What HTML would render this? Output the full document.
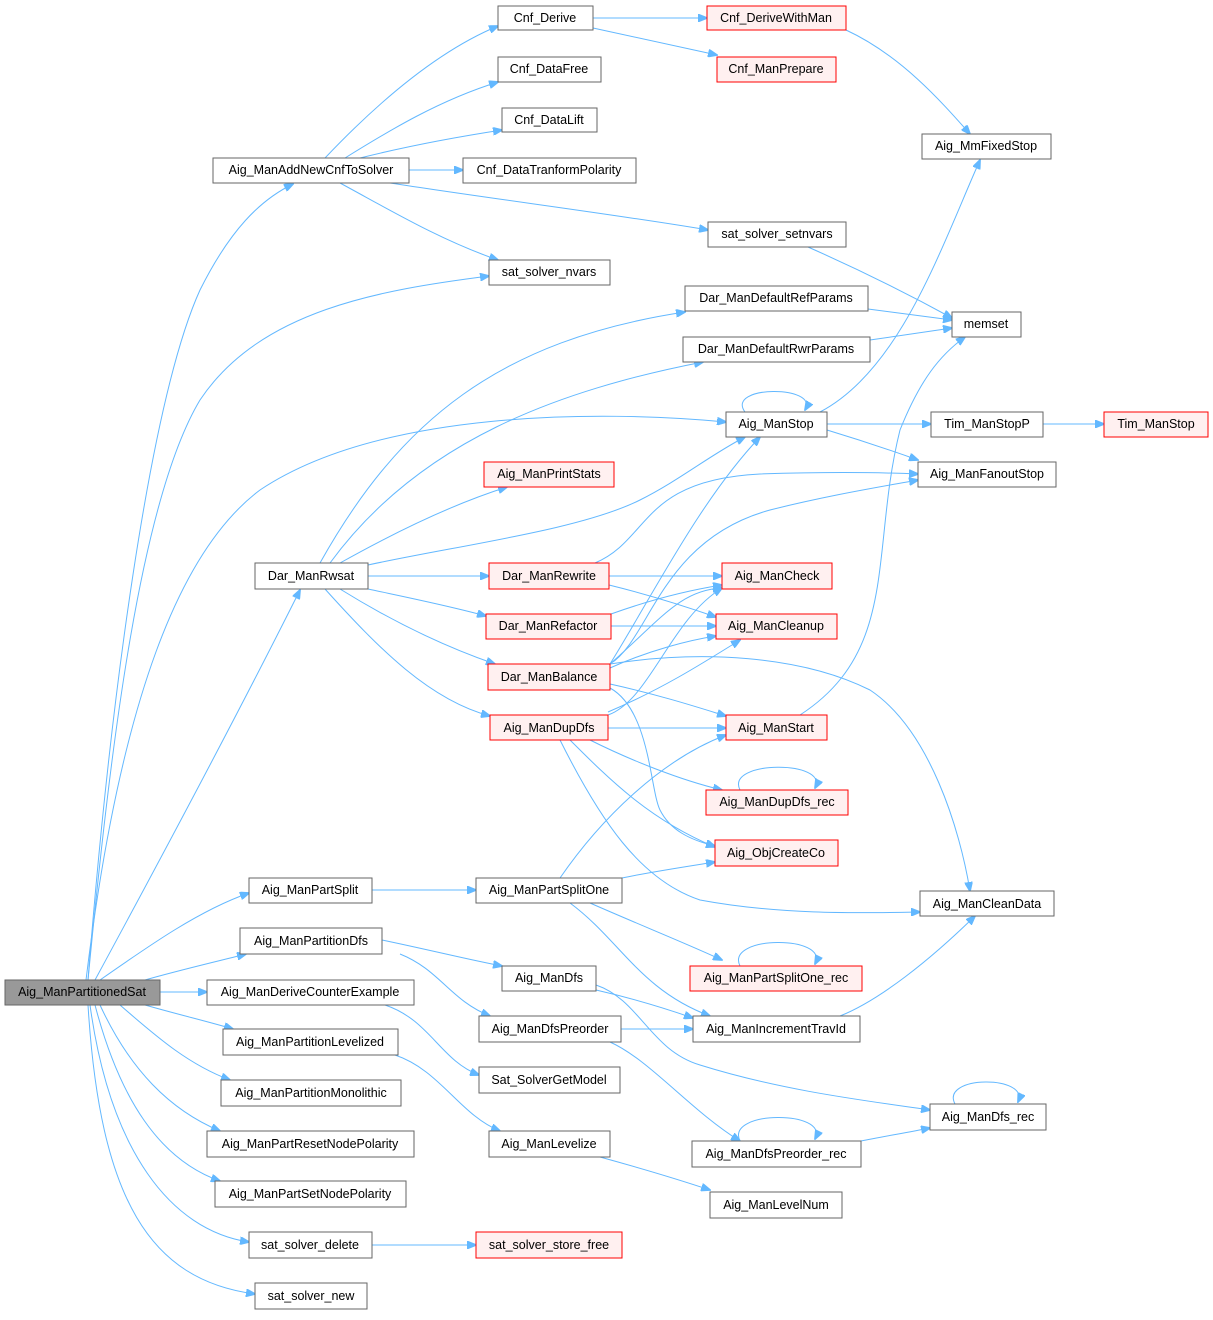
<!DOCTYPE html>
<html><head><meta charset="utf-8"><style>
html,body{margin:0;padding:0;background:#fff}
svg text{font-family:"Liberation Sans",Arial,sans-serif;font-size:12.5px;fill:#000;text-anchor:middle;dominant-baseline:central}
.n{fill:#fff;stroke:#666;stroke-width:1}
.r{fill:#fff0f0;stroke:#f00;stroke-width:1}
.g{fill:#999;stroke:#666;stroke-width:1}
path{fill:none;stroke:#63b8ff;stroke-width:1;marker-end:url(#a)}
</style></head><body>
<svg width="1213" height="1315" viewBox="0 0 1213 1315" xmlns="http://www.w3.org/2000/svg">
<defs><marker id="a" markerWidth="10" markerHeight="8" refX="9" refY="4" orient="auto" markerUnits="userSpaceOnUse"><path d="M0,0 L10,4 L0,8 Z" style="fill:#63b8ff;stroke:#63b8ff;marker-end:none"/></marker></defs>
<!-- edges from root -->
<path d="M88,980 C110,700 150,400 200,290 C230,230 260,200 293,184"/>
<path d="M88,980 C110,750 140,500 200,400 C260,310 380,290 489,276"/>
<path d="M86,980 C120,700 180,550 260,490 C380,410 600,410 726,422"/>
<path d="M95,980 C160,860 240,710 300,590"/>
<path d="M100,980 C150,945 200,910 249,893"/>
<path d="M145,980 C180,970 215,962 246,954"/>
<path d="M160,992 L207,992"/>
<path d="M145,1005 C180,1015 210,1022 233,1029"/>
<path d="M120,1005 C160,1040 190,1065 230,1080"/>
<path d="M100,1005 C130,1070 170,1110 220,1131"/>
<path d="M95,1005 C120,1100 160,1160 220,1181"/>
<path d="M90,1005 C110,1150 170,1230 249,1242"/>
<path d="M88,1005 C100,1200 150,1280 255,1294"/>
<!-- AddNewCnf -->
<path d="M325,158 C380,100 440,50 498,26"/>
<path d="M345,158 C390,130 440,100 498,82"/>
<path d="M360,158 C400,148 450,138 502,130"/>
<path d="M409,170 L463,170"/>
<path d="M340,183 C390,210 440,240 498,260"/>
<path d="M390,183 C500,200 620,215 708,230"/>
<path d="M593,18 L707,18"/>
<path d="M593,28 C640,38 680,47 717,55"/>
<path d="M846,30 C900,55 940,100 970,134"/>
<path d="M808,247 C860,270 910,295 952,318"/>
<path d="M868,309 L952,320"/>
<path d="M870,340 L952,328"/>
<!-- Aig_ManStop -->
<path d="M745,412 C725,385 820,385 805,410"/>
<path d="M820,412 C900,370 940,250 980,160"/>
<path d="M827,424 L931,424"/>
<path d="M827,430 C860,440 890,450 918,460"/>
<path d="M1043,424 L1104,424"/>
<!-- Dar_ManRwsat -->
<path d="M320,563 C400,420 500,340 685,312"/>
<path d="M330,563 C420,440 560,390 703,362"/>
<path d="M368,565 C460,545 580,530 640,500 C680,480 710,455 745,437"/>
<path d="M340,563 C390,535 450,505 507,487"/>
<path d="M368,576 L489,576"/>
<path d="M368,589 C410,598 450,606 486,616"/>
<path d="M340,589 C390,620 440,645 495,664"/>
<path d="M325,589 C380,650 430,700 490,716"/>
<!-- Rewrite / Refactor / Balance / DupDfs -->
<path d="M595,563 C650,540 640,480 760,474 C820,472 870,472 918,474"/>
<path d="M609,576 L722,576"/>
<path d="M609,585 C650,595 690,608 716,617"/>
<path d="M611,614 C650,600 690,590 722,585"/>
<path d="M611,626 L716,626"/>
<path d="M610,664 C650,640 660,540 770,510 C830,495 880,487 918,480"/>
<path d="M610,664 C660,620 680,590 722,588"/>
<path d="M610,668 C650,650 690,640 716,636"/>
<path d="M610,664 C650,600 700,500 760,437"/>
<path d="M610,684 C660,695 700,708 726,716"/>
<path d="M610,688 C650,710 650,790 660,810 C670,830 690,840 715,846"/>
<path d="M610,664 C700,650 800,655 870,690 C930,730 960,830 970,891"/>
<path d="M608,715 C650,700 670,620 722,588"/>
<path d="M608,712 C660,690 700,665 740,640"/>
<path d="M608,728 L726,728"/>
<path d="M590,740 C630,760 680,780 722,790"/>
<path d="M570,740 C610,780 650,820 715,847"/>
<path d="M560,740 C600,820 640,880 700,900 C780,915 860,913 920,912"/>
<path d="M800,715 C900,650 870,550 900,430 C920,380 940,355 965,337"/>
<path d="M740,790 C725,760 830,760 815,788"/>
<!-- PartSplit -->
<path d="M372,890 L476,890"/>
<path d="M622,878 C650,872 690,866 715,862"/>
<path d="M560,878 C600,820 660,760 726,735"/>
<path d="M590,903 C640,925 690,945 722,960"/>
<path d="M570,903 C620,940 640,990 710,1016"/>
<path d="M740,966 C725,935 830,935 815,964"/>
<!-- PartitionDfs -->
<path d="M382,940 C430,950 470,960 502,966"/>
<path d="M400,954 C440,970 450,1000 490,1016"/>
<path d="M596,990 C640,1000 670,1010 693,1018"/>
<path d="M596,985 C640,1000 650,1050 700,1065 C780,1090 860,1100 930,1110"/>
<path d="M621,1029 L693,1029"/>
<path d="M610,1042 C650,1060 690,1110 740,1141"/>
<path d="M740,1141 C725,1110 830,1110 815,1139"/>
<path d="M861,1141 C880,1137 905,1133 930,1128"/>
<path d="M955,1104 C940,1075 1030,1075 1018,1102"/>
<path d="M840,1016 C880,1000 930,960 975,916"/>
<path d="M385,1005 C430,1020 440,1060 479,1075"/>
<path d="M395,1055 C440,1070 460,1115 500,1131"/>
<path d="M600,1157 C640,1168 680,1180 710,1190"/>
<path d="M372,1245 L476,1245"/>
<!-- nodes -->
<rect class="g" x="5" y="980" width="155" height="25"/><text x="82" y="992">Aig_ManPartitionedSat</text>
<rect class="n" x="498" y="6" width="95" height="24"/><text x="545" y="18">Cnf_Derive</text>
<rect class="r" x="707" y="6" width="139" height="24"/><text x="776" y="18">Cnf_DeriveWithMan</text>
<rect class="r" x="717" y="57" width="119" height="25"/><text x="776" y="69">Cnf_ManPrepare</text>
<rect class="n" x="498" y="57" width="103" height="25"/><text x="549" y="69">Cnf_DataFree</text>
<rect class="n" x="502" y="108" width="95" height="24"/><text x="549" y="120">Cnf_DataLift</text>
<rect class="n" x="463" y="158" width="173" height="25"/><text x="549" y="170">Cnf_DataTranformPolarity</text>
<rect class="n" x="213" y="158" width="196" height="25"/><text x="311" y="170">Aig_ManAddNewCnfToSolver</text>
<rect class="n" x="922" y="134" width="129" height="25"/><text x="986" y="146">Aig_MmFixedStop</text>
<rect class="n" x="708" y="222" width="138" height="25"/><text x="777" y="234">sat_solver_setnvars</text>
<rect class="n" x="489" y="260" width="121" height="25"/><text x="549" y="272">sat_solver_nvars</text>
<rect class="n" x="685" y="286" width="183" height="25"/><text x="776" y="298">Dar_ManDefaultRefParams</text>
<rect class="n" x="952" y="312" width="69" height="25"/><text x="986" y="324">memset</text>
<rect class="n" x="683" y="337" width="187" height="25"/><text x="776" y="349">Dar_ManDefaultRwrParams</text>
<rect class="n" x="726" y="412" width="101" height="25"/><text x="776" y="424">Aig_ManStop</text>
<rect class="n" x="931" y="412" width="112" height="25"/><text x="987" y="424">Tim_ManStopP</text>
<rect class="r" x="1104" y="412" width="104" height="25"/><text x="1156" y="424">Tim_ManStop</text>
<rect class="r" x="484" y="462" width="130" height="25"/><text x="549" y="474">Aig_ManPrintStats</text>
<rect class="n" x="918" y="462" width="138" height="25"/><text x="987" y="474">Aig_ManFanoutStop</text>
<rect class="n" x="255" y="563" width="113" height="26"/><text x="311" y="576">Dar_ManRwsat</text>
<rect class="r" x="489" y="563" width="120" height="26"/><text x="549" y="576">Dar_ManRewrite</text>
<rect class="r" x="722" y="563" width="110" height="26"/><text x="777" y="576">Aig_ManCheck</text>
<rect class="r" x="486" y="614" width="125" height="25"/><text x="548" y="626">Dar_ManRefactor</text>
<rect class="r" x="716" y="614" width="121" height="25"/><text x="776" y="626">Aig_ManCleanup</text>
<rect class="r" x="488" y="664" width="122" height="26"/><text x="549" y="677">Dar_ManBalance</text>
<rect class="r" x="490" y="715" width="118" height="25"/><text x="549" y="728">Aig_ManDupDfs</text>
<rect class="r" x="726" y="715" width="101" height="25"/><text x="776" y="728">Aig_ManStart</text>
<rect class="r" x="706" y="790" width="142" height="25"/><text x="777" y="802">Aig_ManDupDfs_rec</text>
<rect class="r" x="715" y="840" width="123" height="26"/><text x="776" y="853">Aig_ObjCreateCo</text>
<rect class="n" x="249" y="878" width="123" height="25"/><text x="310" y="890">Aig_ManPartSplit</text>
<rect class="n" x="476" y="878" width="146" height="25"/><text x="549" y="890">Aig_ManPartSplitOne</text>
<rect class="n" x="920" y="891" width="134" height="25"/><text x="987" y="904">Aig_ManCleanData</text>
<rect class="n" x="240" y="928" width="142" height="26"/><text x="311" y="941">Aig_ManPartitionDfs</text>
<rect class="r" x="690" y="966" width="172" height="25"/><text x="776" y="978">Aig_ManPartSplitOne_rec</text>
<rect class="n" x="502" y="966" width="94" height="25"/><text x="549" y="978">Aig_ManDfs</text>
<rect class="n" x="207" y="980" width="207" height="25"/><text x="310" y="992">Aig_ManDeriveCounterExample</text>
<rect class="n" x="479" y="1016" width="142" height="26"/><text x="550" y="1029">Aig_ManDfsPreorder</text>
<rect class="n" x="693" y="1016" width="167" height="26"/><text x="776" y="1029">Aig_ManIncrementTravId</text>
<rect class="n" x="223" y="1029" width="175" height="26"/><text x="310" y="1042">Aig_ManPartitionLevelized</text>
<rect class="n" x="479" y="1067" width="141" height="26"/><text x="549" y="1080">Sat_SolverGetModel</text>
<rect class="n" x="221" y="1080" width="180" height="26"/><text x="311" y="1093">Aig_ManPartitionMonolithic</text>
<rect class="n" x="930" y="1104" width="116" height="26"/><text x="988" y="1117">Aig_ManDfs_rec</text>
<rect class="n" x="207" y="1131" width="207" height="26"/><text x="310" y="1144">Aig_ManPartResetNodePolarity</text>
<rect class="n" x="489" y="1131" width="121" height="26"/><text x="549" y="1144">Aig_ManLevelize</text>
<rect class="n" x="692" y="1141" width="169" height="26"/><text x="776" y="1154">Aig_ManDfsPreorder_rec</text>
<rect class="n" x="215" y="1181" width="191" height="26"/><text x="310" y="1194">Aig_ManPartSetNodePolarity</text>
<rect class="n" x="710" y="1192" width="132" height="26"/><text x="776" y="1205">Aig_ManLevelNum</text>
<rect class="n" x="249" y="1232" width="123" height="26"/><text x="310" y="1245">sat_solver_delete</text>
<rect class="r" x="476" y="1232" width="146" height="26"/><text x="549" y="1245">sat_solver_store_free</text>
<rect class="n" x="255" y="1283" width="112" height="26"/><text x="311" y="1296">sat_solver_new</text>
</svg>
</body></html>
